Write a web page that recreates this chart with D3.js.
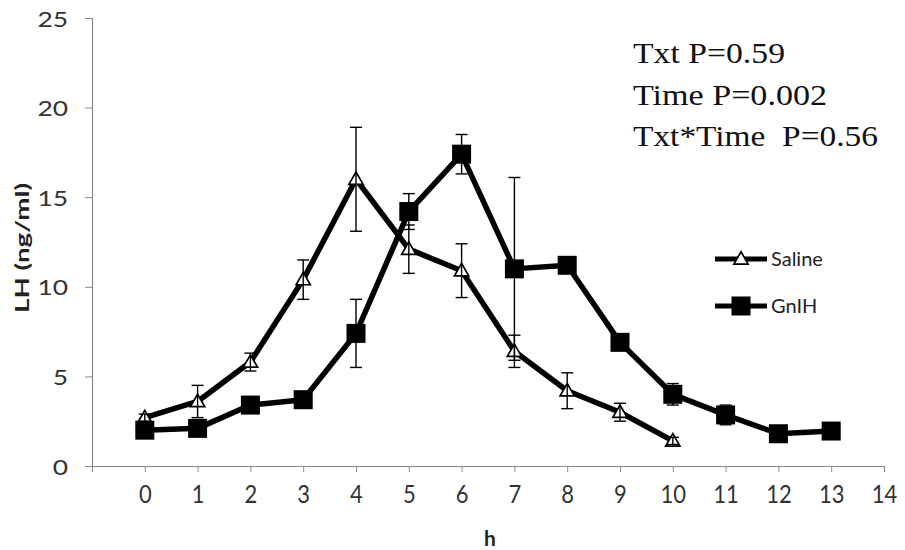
<!DOCTYPE html>
<html>
<head>
	<meta charset="UTF-8">
	<title>LH saline vs GnIH</title>
	<style>
html, body {
	margin:0;padding:0;background:#fff;
}
.tick text, .lbl {
	font-family: Lato, "Open Sans", sans-serif;
	fill: #333;
}
.stat {
	font-family: "Liberation Serif", "DejaVu Serif", serif;
	font-size: 30px;
	fill: #111;
}
	</style>
	<script src="https://cdnjs.cloudflare.com/ajax/libs/d3/7.8.5/d3.min.js"></script>
</head>
<body>
<script>
const hours = [0, 1, 2, 3, 4, 5, 6, 7, 8, 9, 10, 11, 12, 13];
const xTicks = [-1, 0, 1, 2, 3, 4, 5, 6, 7, 8, 9, 10, 11, 12, 13, 14];
const yTicks = [0, 5, 10, 15, 20, 25];
const saline = [2.7, 3.6, 5.8, 10.4, 16.0, 12.1, 10.9, 6.4, 4.2, 3.0, 1.4];
const salineErr = [0.2, 0.9, 0.5, 1.1, 2.9, 1.35, 1.5, 0.9, 1.0, 0.5, 0.2];
const gnih = [2.0, 2.1, 3.4, 3.7, 7.4, 14.2, 17.4, 11.0, 11.2, 6.9, 4.0, 2.85, 1.8, 1.95];
const gnihErr = [0.2, 0.3, 0.3, 0.3, 1.9, 1.0, 1.1, 5.1, 0.3, 0.4, 0.6, 0.55, 0.2, 0.2];
const seriesNames = ['Saline', 'GnIH'];
const stats = ['Txt P=0.59', 'Time P=0.002', 'Txt*Time  P=0.56'];

const W = 905, H = 550;
const svg = d3.select('body').append('svg').attr('width', W).attr('height', H);

const x = d3.scaleLinear().domain([-1, 14]).range([92, 884]);
const y = d3.scaleLinear().domain([0, 25]).range([466, 18]);

// axes
const xAxis = svg.append('g').attr('transform', `translate(0,${y(0)})`)
	.call(d3.axisBottom(x).tickValues(xTicks).tickSize(6)
		.tickFormat(d => d < 0 ? '' : d));
const yAxis = svg.append('g').attr('transform', `translate(${x(-1)},0)`)
	.call(d3.axisLeft(y).tickValues(yTicks).tickSize(7));
[xAxis, yAxis].forEach(a => {
	a.select('.domain').attr('stroke', '#8a8a8a').attr('stroke-width', 1.2);
	a.selectAll('.tick line').attr('stroke', '#8a8a8a');
	a.selectAll('.tick text').attr('font-size', 22);
});
// excel-ish stretched digits
xAxis.selectAll('.tick text').attr('y', null).attr('dy', null)
	.attr('transform', 'translate(0,37) scale(1,1.15)');
yAxis.selectAll('.tick text').attr('x', null).attr('dy', null)
	.attr('transform', 'translate(-24,8) scale(1.2,1)');

svg.append('text').attr('class', 'lbl')
	.attr('x', 490).attr('y', 546).attr('text-anchor', 'middle')
	.attr('font-size', 21).attr('font-weight', 'bold').style('fill', '#222').text('h');
svg.append('text').attr('class', 'lbl')
	.attr('transform', 'translate(29,248) rotate(-90)').attr('text-anchor', 'middle')
	.attr('font-size', 19).attr('font-weight', 'bold').style('fill', '#222')
	.attr('textLength', 130).attr('lengthAdjust', 'spacingAndGlyphs')
	.text('LH (ng/ml)');

const line = d3.line().x(d => x(d.h)).y(d => y(d.v));
const tri = d3.symbol().type(d3.symbolTriangle).size(88);

const toPts = (vals, errs) => vals.map((v, i) => ({h: hours[i], v, e: errs[i]}));

function drawSeries(pts, kind) {
	const g = svg.append('g');
	g.append('path').datum(pts).attr('d', line)
		.attr('fill', 'none').attr('stroke', '#000').attr('stroke-width', 5.5)
		.attr('stroke-linejoin', 'round');
	if (kind === 'tri') {
		g.selectAll('.m').data(pts).enter().append('path')
			.attr('d', tri).attr('transform', d => `translate(${x(d.h)},${y(d.v) + 1})`)
			.attr('fill', '#fff').attr('stroke', '#000').attr('stroke-width', 1.7);
	} else {
		g.selectAll('.m').data(pts).enter().append('rect')
			.attr('x', d => x(d.h) - 9.5).attr('y', d => y(d.v) - 9.5)
			.attr('width', 19).attr('height', 19).attr('fill', '#000');
	}
	const eb = g.selectAll('.eb').data(pts).enter().append('g')
		.attr('stroke', '#000').attr('stroke-width', 1.4);
	eb.append('line').attr('x1', d => x(d.h)).attr('x2', d => x(d.h))
		.attr('y1', d => y(d.v + d.e)).attr('y2', d => y(d.v - d.e));
	eb.append('line').attr('x1', d => x(d.h) - 6).attr('x2', d => x(d.h) + 6)
		.attr('y1', d => y(d.v + d.e)).attr('y2', d => y(d.v + d.e));
	eb.append('line').attr('x1', d => x(d.h) - 6).attr('x2', d => x(d.h) + 6)
		.attr('y1', d => y(d.v - d.e)).attr('y2', d => y(d.v - d.e));
}
drawSeries(toPts(saline, salineErr), 'tri');
drawSeries(toPts(gnih, gnihErr), 'sq');

// legend
const legend = svg.append('g');
seriesNames.forEach((name, i) => {
	const ly = 259 + i * 47;
	legend.append('line').attr('x1', 715).attr('x2', 767).attr('y1', ly).attr('y2', ly)
		.attr('stroke', '#000').attr('stroke-width', 5);
	if (i === 0) {
		legend.append('path').attr('d', tri).attr('transform', `translate(741,${ly + 1})`)
			.attr('fill', '#fff').attr('stroke', '#000').attr('stroke-width', 1.7);
	} else {
		legend.append('rect').attr('x', 731.5).attr('y', ly - 9.5).attr('width', 19).attr('height', 19).attr('fill', '#000');
	}
	legend.append('text').attr('class', 'lbl').attr('x', 771).attr('y', ly + 7)
		.attr('font-size', 20).style('fill', '#222').text(name);
});

// stats box
const statWidths = [152, 194, 245];
svg.selectAll('.stat').data(stats).enter().append('text').attr('class', 'stat')
	.attr('x', 633).attr('y', (d, i) => 63 + i * 41.5)
	.attr('textLength', (d, i) => statWidths[i]).attr('lengthAdjust', 'spacingAndGlyphs')
	.style('white-space', 'pre').text(d => d);
</script>
</body>
</html>
